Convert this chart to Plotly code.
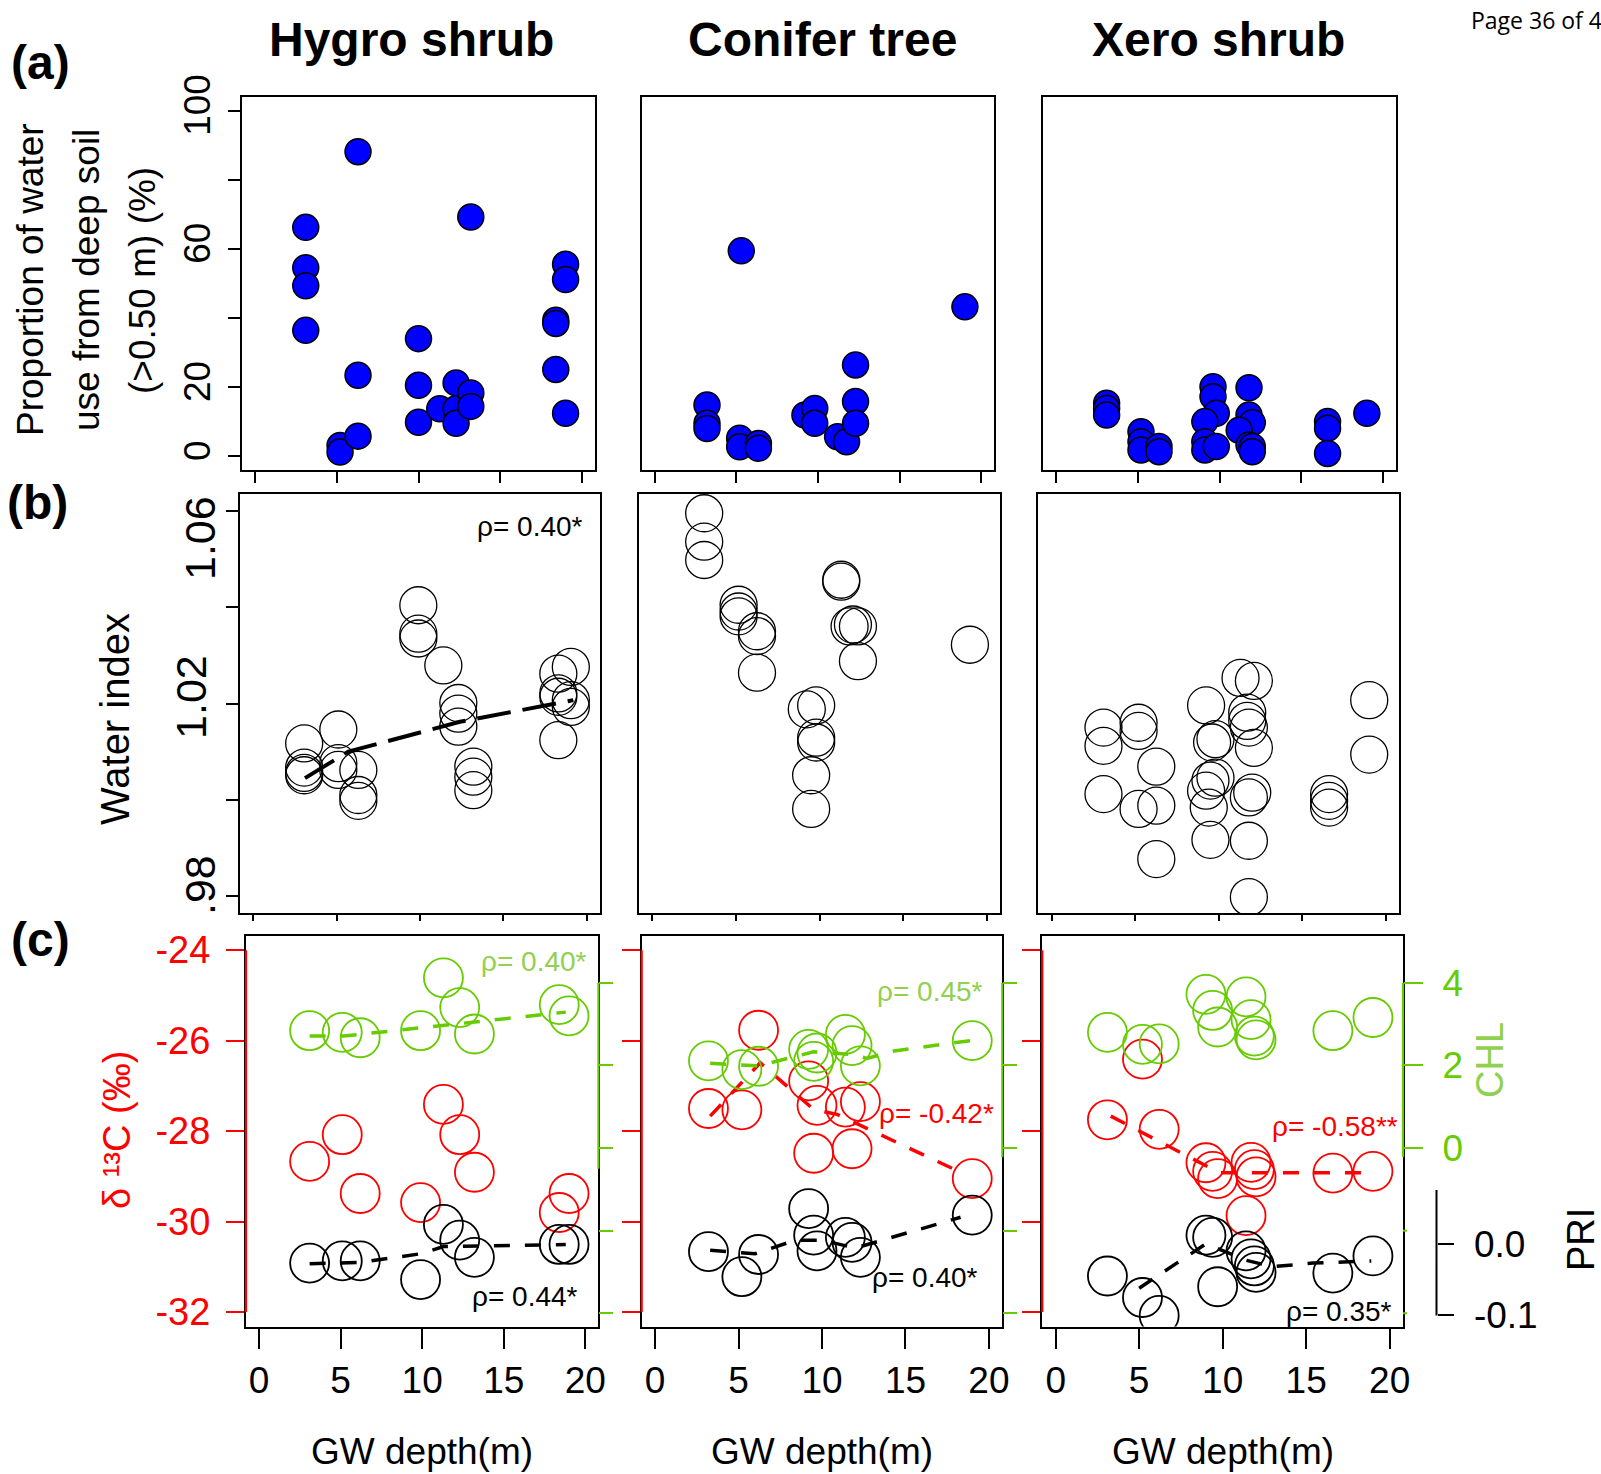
import plotly.graph_objects as go

W, H = 1601, 1474
BODY = "Liberation Sans, Arial, sans-serif"
RED = "#FF0000"
GREEN = "#66CC00"
LIGHT_GREEN = "#92D050"
BLUE = "#0000FF"

# ---------------------------------------------------------------- data
species = ["Hygro shrub", "Conifer tree", "Xero shrub"]
gw_ticks = [0, 5, 10, 15, 20]

# (a) proportion of water use from deep soil (>0.50 m), %
hygro_deep_x = [3.1, 3.1, 3.1, 3.1, 5.2, 5.2, 6.3, 6.3, 6.3, 10.0, 10.0, 10.0, 11.3,
                12.3, 12.3, 12.3, 13.2, 13.2, 13.2, 18.4, 18.4, 18.4, 19.0, 19.0, 19.0]
hygro_deep_y = [66.2, 54.5, 49.3, 36.4, 3.1, 1.2, 88.1, 23.4, 5.8, 34.0, 20.5, 9.8, 13.7,
                21.2, 13.7, 9.5, 69.2, 18.3, 14.4, 39.3, 38.4, 25.1, 55.5, 51.1, 12.4]
conifer_deep_x = [3.2, 3.2, 3.2, 5.3, 5.2, 5.2, 6.35, 6.35, 9.2, 9.8, 9.8, 11.2, 11.75,
                  12.3, 12.3, 12.3, 19.0]
conifer_deep_y = [14.8, 9.5, 8.0, 59.4, 5.2, 2.7, 3.7, 2.3, 11.9, 13.8, 9.5, 5.6, 4.2,
                  26.4, 15.8, 9.5, 43.2]
xero_deep_x = [3.1, 3.1, 3.1, 5.2, 5.2, 5.2, 6.3, 6.3, 9.6, 9.6, 9.8, 9.1, 9.1, 9.1, 9.8,
               11.8, 11.8, 12.0, 11.2, 11.8, 12.0, 12.0, 16.6, 16.6, 16.6, 19.0]
xero_deep_y = [15.3, 13.8, 11.9, 7.1, 4.2, 1.8, 2.8, 1.3, 20.1, 17.2, 12.4, 10.0, 4.2, 1.8, 2.8,
               19.8, 11.9, 9.7, 7.5, 3.2, 2.8, 1.3, 10.0, 8.1, 0.8, 12.4]
deep_ticks = [0, 20, 60, 100]
deep_minor_ticks = [40, 80]

# (b) water index
hygro_wi_x = [3.05, 3.05, 3.05, 3.05, 5.1, 5.1, 5.1, 6.3, 6.3, 6.3, 9.9, 9.9, 9.9, 11.4,
              12.3, 12.3, 12.3, 13.2, 13.2, 13.2, 18.3, 18.3, 18.3, 18.3, 19.05, 19.05, 19.05]
hygro_wi_y = [1.0117, 1.0067, 1.0056, 1.0051, 1.0146, 1.0076, 1.0062, 1.0062, 1.0010, 0.9998,
              1.0404, 1.0345, 1.0335, 1.0279, 1.0201, 1.0179, 1.0152, 1.0069, 1.0048, 1.0020,
              1.0262, 1.0221, 1.0214, 1.0124, 1.0276, 1.0207, 1.0193]
hygro_wi_fit_x = [3.1, 5.7, 12.4, 19.2]
hygro_wi_fit_y = [1.0045, 1.0100, 1.0162, 1.0207]
conifer_wi_x = [3.1, 3.1, 3.1, 5.16, 5.16, 5.16, 6.26, 6.26, 6.26, 9.24, 9.8, 9.8, 9.8, 9.5, 9.5,
                11.3, 11.3, 11.8, 12.0, 12.3, 12.3, 19.0]
conifer_wi_y = [1.0595, 1.0536, 1.0498, 1.0405, 1.0391, 1.0381, 1.0350, 1.0340, 1.0264,
                1.0188, 1.0196, 1.0129, 1.0119, 1.0051, 0.9981, 1.0457, 1.0453, 1.0360,
                1.0364, 1.0360, 1.0288, 1.0322]
xero_wi_x = [3.1, 3.1, 3.1, 5.2, 5.2, 6.26, 5.2, 6.26, 6.26, 9.24, 9.6, 9.8, 9.8, 9.5, 9.24,
             9.4, 9.5, 11.3, 12.1, 11.7, 11.7, 11.8, 12.1, 12.0, 11.8, 11.8, 11.8, 16.6, 16.6,
             16.6, 19.0, 19.0]
xero_wi_y = [1.0150, 1.0112, 1.0012, 1.0160, 1.0143, 1.0069, 0.9981, 0.9988, 0.9877, 1.0196,
             1.0119, 1.0126, 1.0046, 1.0040, 1.0019, 0.9984, 0.9917, 1.0253, 1.0247, 1.0181,
             1.0164, 1.0150, 1.0108, 1.0015, 1.0005, 0.9915, 0.9798, 1.0012, 0.9998, 0.9984,
             1.0207, 1.0094]
wi_ticks = [1.02]
wi_minor_ticks = [0.98, 1.00, 1.04, 1.06]

# (c) leaf d13C (per mil), chlorophyll index (CHL) and PRI
hygro_c_x = [3.1, 5.1, 6.2, 9.9, 11.3, 12.3, 13.2, 18.4, 19.0]
hygro_d13c = [-28.67, -28.08, -29.38, -29.58, -27.41, -28.08, -28.91, -29.80, -29.38]
hygro_chl = [2.84, 2.80, 2.67, 2.84, 4.12, 3.40, 2.76, 3.47, 3.20]
hygro_pri = [-0.027, -0.024, -0.024, -0.050, 0.027, 0.005, -0.019, -0.001, -0.001]
hygro_chl_fit_x = [3.1, 5.2, 18.8]
hygro_chl_fit_y = [2.71, 2.71, 3.29]
hygro_pri_fit_x = [3.1, 6.2, 9.9, 11.3, 18.8]
hygro_pri_fit_y = [-0.028, -0.026, -0.014, -0.004, -0.001]

conifer_c_x = [3.2, 5.2, 6.2, 9.2, 9.5, 9.7, 11.4, 11.8, 12.3, 19.0]
conifer_d13c = [-27.50, -27.53, -25.77, -26.89, -28.49, -27.43, -27.47, -28.39, -27.35, -29.05]
conifer_chl = [2.11, 1.90, 1.98, 2.39, 2.10, 2.30, 2.75, 2.48, 1.99, 2.60]
conifer_pri = [-0.011, -0.046, -0.015, 0.049, 0.012, -0.010, 0.009, 0.002, -0.019, 0.040]
conifer_d13c_fit_x = [3.3, 6.3, 9.5, 10.9, 18.3]
conifer_d13c_fit_y = [-27.67, -26.49, -27.52, -27.63, -28.91]
conifer_chl_fit_x = [3.3, 6.2, 9.5, 11.9, 12.7, 14.3, 18.9]
conifer_chl_fit_y = [2.05, 1.99, 2.33, 2.26, 2.17, 2.35, 2.60]
conifer_pri_fit_x = [3.3, 6.0, 8.4, 10.0, 12.0, 18.3]
conifer_pri_fit_y = [-0.009, -0.014, 0.005, 0.005, -0.006, 0.037]

xero_c_x = [3.1, 5.2, 6.2, 9.0, 9.4, 9.7, 11.4, 11.7, 11.9, 12.0, 16.6, 19.0]
xero_d13c = [-27.75, -26.41, -27.96, -28.70, -28.89, -29.05, -29.87, -28.69, -28.85, -29.01,
             -28.93, -28.89]
xero_chl = [2.80, 2.51, 2.52, 3.72, 3.33, 2.93, 3.66, 3.11, 2.71, 2.62, 2.84, 3.16]
xero_pri = [-0.045, -0.075, -0.100, 0.012, 0.009, -0.060, -0.010, -0.021, -0.031, -0.040,
            -0.041, -0.017]
xero_d13c_fit_x = [3.3, 9.8, 19.0]
xero_d13c_fit_y = [-27.67, -28.92, -28.92]
xero_pri_fit_x = [5.0, 9.0, 11.4, 13.0, 15.4, 18.9]
xero_pri_fit_y = [-0.062, 0.0, -0.023, -0.032, -0.027, -0.024]

d13c_ticks = [-32, -30, -28, -26, -24]
d13c_tick_text = ["-32", "-30", "-28", "-26", "-24"]
chl_ticks = [-4, -2, 0, 2, 4]
chl_label_ticks = [0, 2, 4]
pri_ticks = [-0.1, 0.0]
pri_tick_text = ["-0.1", "0.0"]

# ---------------------------------------------------------------- geometry (pixels)
row_a = dict(top=96.7, bottom=470, cols=[(242, 595), (641.7, 994.3), (1042.8, 1396.3)])
row_b = dict(top=494, bottom=913, cols=[(240, 600), (639, 1000), (1038.3, 1399.3)])
row_c = dict(top=935.7, bottom=1326.5, cols=[(246, 598.4), (641.7, 1002.3), (1042.3, 1403)])
X_RANGE = [-0.8, 20.8]
DEEP_RANGE = [-4, 104]
WI_RANGE = [0.9765, 1.0635]
D13C_RANGE = [-32.32, -23.68]
CHL_RANGE = [-4.32, 5.14]
PRI_RANGE = [-0.1155, 0.430]


def dom_x(l, r):
    return [l / W, r / W]


def dom_y(t, b):
    return [1 - b / H, 1 - t / H]


def axname(kind, n):
    return f"{kind}axis" if n == 1 else f"{kind}axis{n}"


def axref(kind, n):
    return kind if n == 1 else f"{kind}{n}"


base = dict(showgrid=False, zeroline=False, fixedrange=True, automargin=False)
layout_axes = {}

# rows (a) and (b)
for row, rng, first in [(row_a, DEEP_RANGE, 1), (row_b, WI_RANGE, 4)]:
    for i, (l, r) in enumerate(row["cols"]):
        n = first + i
        layout_axes[axname("x", n)] = dict(
            base, domain=dom_x(l, r), range=X_RANGE, anchor=axref("y", n),
            showline=True, mirror=True, linecolor="black", linewidth=2,
            ticks="outside", ticklen=11 if first == 1 else 6, tickwidth=1.5,
            tickcolor="black", tickvals=gw_ticks, showticklabels=False)
        ya = dict(base, domain=dom_y(row["top"], row["bottom"]), range=rng,
                  anchor=axref("x", n), showline=True, mirror=True,
                  linecolor="black", linewidth=2, ticks="", showticklabels=False)
        if i == 0:
            major, minor, size = ((deep_ticks, deep_minor_ticks, 37) if first == 1
                                  else (wi_ticks, wi_minor_ticks, 43))
            ya.update(ticks="outside", ticklen=12, tickwidth=1.5, tickcolor="black",
                      tickvals=major, showticklabels=True, tickangle=-90,
                      ticklabelstandoff=3,
                      tickfont=dict(family=BODY, size=size, color="black"),
                      minor=dict(tickvals=minor, ticks="outside", ticklen=12,
                                 tickwidth=1.5, tickcolor="black", showgrid=False))
        layout_axes[axname("y", n)] = ya

# row (c): x7-x9, d13C y7-y9, CHL y10-y12, PRI y13-y15
for i, (l, r) in enumerate(row_c["cols"]):
    n = 7 + i
    layout_axes[axname("x", n)] = dict(
        base, domain=dom_x(l, r), range=X_RANGE, anchor=axref("y", n),
        showline=True, mirror=True, linecolor="black", linewidth=2,
        ticks="outside", ticklen=20, tickwidth=2, tickcolor="black",
        tickvals=gw_ticks, showticklabels=True, ticklabelstandoff=0,
        tickfont=dict(family=BODY, size=37, color="black"))
    layout_axes[axname("y", n)] = dict(
        base, domain=dom_y(row_c["top"], row_c["bottom"]), range=D13C_RANGE,
        anchor=axref("x", n), showline=True, mirror=True, linecolor="black", linewidth=2,
        ticks="outside", ticklen=18, tickwidth=2, tickcolor=RED, tickvals=d13c_ticks,
        ticktext=d13c_tick_text, showticklabels=(i == 0), ticklabelstandoff=8,
        tickfont=dict(family=BODY, size=38, color=RED))
    chl = dict(base, overlaying=axref("y", n), anchor=axref("x", n), side="right",
               range=CHL_RANGE, showline=False, ticks="outside", tickwidth=2,
               tickcolor=GREEN, ticklen=14, tickvals=chl_ticks, showticklabels=False)
    if i == 2:
        chl.update(ticklen=19, tickvals=chl_label_ticks, showticklabels=True,
                   ticklabelstandoff=12, tickfont=dict(family=BODY, size=37, color=GREEN))
    layout_axes[axname("y", 10 + i)] = chl
    pri = dict(base, overlaying=axref("y", n), anchor=axref("x", n), side="right",
               range=PRI_RANGE, visible=False)
    if i == 2:
        pri.update(visible=True, anchor="free", position=1436.5 / W, showline=False,
                   ticks="outside", ticklen=16, tickwidth=2, tickcolor="black",
                   tickvals=pri_ticks, ticktext=pri_tick_text, showticklabels=True,
                   ticklabelstandoff=13, tickfont=dict(family=BODY, size=37, color="black"))
    layout_axes[axname("y", 13 + i)] = pri

fig = go.Figure()

# ---------------------------------------------------------------- traces
blue_marker = dict(symbol="circle", size=26, color=BLUE, line=dict(color="black", width=1.5))
for n, (xs, ys) in enumerate([(hygro_deep_x, hygro_deep_y), (conifer_deep_x, conifer_deep_y),
                              (xero_deep_x, xero_deep_y)], start=1):
    fig.add_trace(go.Scatter(x=xs, y=ys, mode="markers", marker=blue_marker,
                             xaxis=axref("x", n), yaxis=axref("y", n)))

open_black_b = dict(symbol="circle-open", size=37, color="black", line=dict(color="black", width=1.3))
for n, (xs, ys) in enumerate([(hygro_wi_x, hygro_wi_y), (conifer_wi_x, conifer_wi_y),
                              (xero_wi_x, xero_wi_y)], start=4):
    fig.add_trace(go.Scatter(x=xs, y=ys, mode="markers", marker=open_black_b,
                             xaxis=axref("x", n), yaxis=axref("y", n)))
fig.add_trace(go.Scatter(x=hygro_wi_fit_x, y=hygro_wi_fit_y, mode="lines",
                         line=dict(color="black", width=4, dash="34px,12px"),
                         xaxis="x4", yaxis="y4"))


def open_marker(color):
    return dict(symbol="circle-open", size=39, color=color, line=dict(color=color, width=1.8))


def fit_line(color):
    return dict(color=color, width=3.5, dash="16px,15px")


row_c_sets = [
    (hygro_c_x, hygro_d13c, hygro_chl, hygro_pri),
    (conifer_c_x, conifer_d13c, conifer_chl, conifer_pri),
    (xero_c_x, xero_d13c, xero_chl, xero_pri),
]
for i, (xs, d13c, chlv, pri) in enumerate(row_c_sets):
    xa = axref("x", 7 + i)
    fig.add_trace(go.Scatter(x=xs, y=chlv, mode="markers", marker=open_marker(GREEN),
                             xaxis=xa, yaxis=axref("y", 10 + i)))
    fig.add_trace(go.Scatter(x=xs, y=d13c, mode="markers", marker=open_marker(RED),
                             xaxis=xa, yaxis=axref("y", 7 + i)))
    fig.add_trace(go.Scatter(x=xs, y=pri, mode="markers", marker=open_marker("black"),
                             xaxis=xa, yaxis=axref("y", 13 + i)))

fits = [
    (hygro_chl_fit_x, hygro_chl_fit_y, GREEN, "x7", "y10"),
    (hygro_pri_fit_x, hygro_pri_fit_y, "black", "x7", "y13"),
    (conifer_d13c_fit_x, conifer_d13c_fit_y, RED, "x8", "y8"),
    (conifer_chl_fit_x, conifer_chl_fit_y, GREEN, "x8", "y11"),
    (conifer_pri_fit_x, conifer_pri_fit_y, "black", "x8", "y14"),
    (xero_d13c_fit_x, xero_d13c_fit_y, RED, "x9", "y9"),
    (xero_pri_fit_x, xero_pri_fit_y, "black", "x9", "y15"),
]
for xs, ys, color, xa, ya in fits:
    fig.add_trace(go.Scatter(x=xs, y=ys, mode="lines", line=fit_line(color),
                             xaxis=xa, yaxis=ya))

# ---------------------------------------------------------------- coloured axis lines
shapes = []
for i, (l, r) in enumerate(row_c["cols"]):
    shapes.append(dict(type="line", xref="paper", yref=axref("y", 7 + i),
                       x0=l / W, x1=l / W, y0=d13c_ticks[0], y1=d13c_ticks[-1],
                       line=dict(color=RED, width=2.2), layer="above"))
    shapes.append(dict(type="line", xref="paper", yref=axref("y", 10 + i),
                       x0=r / W, x1=r / W, y0=-0.5 if i == 0 else -0.22, y1=chl_ticks[-1],
                       line=dict(color=GREEN, width=2.2), layer="above"))
# short CHL stubs below zero on the last panel
for v in [-2, -4]:
    shapes.append(dict(type="line", xref="paper", yref="y12",
                       x0=1403 / W, x1=1407 / W, y0=v, y1=v,
                       line=dict(color=GREEN, width=2), layer="above"))
# PRI axis spine
shapes.append(dict(type="line", xref="paper", yref="y15",
                   x0=1436.5 / W, x1=1436.5 / W, y0=pri_ticks[0], y1=0.075,
                   line=dict(color="black", width=2), layer="above"))

# ---------------------------------------------------------------- text
ann = []


def text(x, y, s, size, color="black", family=BODY, angle=0, xanchor="center",
         yanchor="middle", weight="normal"):
    ann.append(dict(x=x / W, y=1 - y / H, xref="paper", yref="paper", text=s,
                    showarrow=False, textangle=angle, xanchor=xanchor, yanchor=yanchor,
                    font=dict(family=family, size=size, color=color, weight=weight)))


for name, cx in zip(species, [411, 822, 1218]):
    text(cx, 40, name, 48, weight="bold")
text(40, 63, "(a)", 48, weight="bold")
text(37, 503, "(b)", 48, weight="bold")
text(40, 939, "(c)", 48, weight="bold")
text(1469, 20, "Page 36 of 4", 23, family="Open Sans, sans-serif", xanchor="left")

text(30, 280, "Proportion of water", 37, angle=-90)
text(86, 280, "use from deep soil", 37, angle=-90)
text(143, 281, "(&gt;0.50 m) (%)", 37, angle=-90)
text(115, 719, "Water index", 40, angle=-90)
text(200, 538, "1.06", 43, angle=-90)
text(200, 885, ".98", 43, angle=-90)
text(117, 1130, "δ ¹³C (‰)", 38, color=RED, angle=-90)
text(1490, 1060, "CHL", 38, color=LIGHT_GREEN, angle=-90)
text(1581, 1240, "PRI", 38, angle=-90)
for l, r in row_c["cols"]:
    text((l + r) / 2, 1451, "GW depth(m)", 37)

rho = [
    (585, 526, "ρ= 0.40*", "black"),
    (589, 961, "ρ= 0.40*", LIGHT_GREEN),
    (580, 1296, "ρ= 0.44*", "black"),
    (985, 991, "ρ= 0.45*", LIGHT_GREEN),
    (996, 1113, "ρ= -0.42*", RED),
    (980, 1277, "ρ= 0.40*", "black"),
    (1400, 1126, "ρ= -0.58**", RED),
    (1394, 1311, "ρ= 0.35*", "black"),
]
for x, y, s, c in rho:
    text(x, y, s, 28, color=c, xanchor="right")

fig.update_layout(
    template="none",
    width=W, height=H, margin=dict(l=0, r=0, t=0, b=0, pad=0, autoexpand=False),
    paper_bgcolor="white", plot_bgcolor="rgba(0,0,0,0)", showlegend=False,
    annotations=ann, shapes=shapes, **layout_axes)

fig.write_html("out.html")
